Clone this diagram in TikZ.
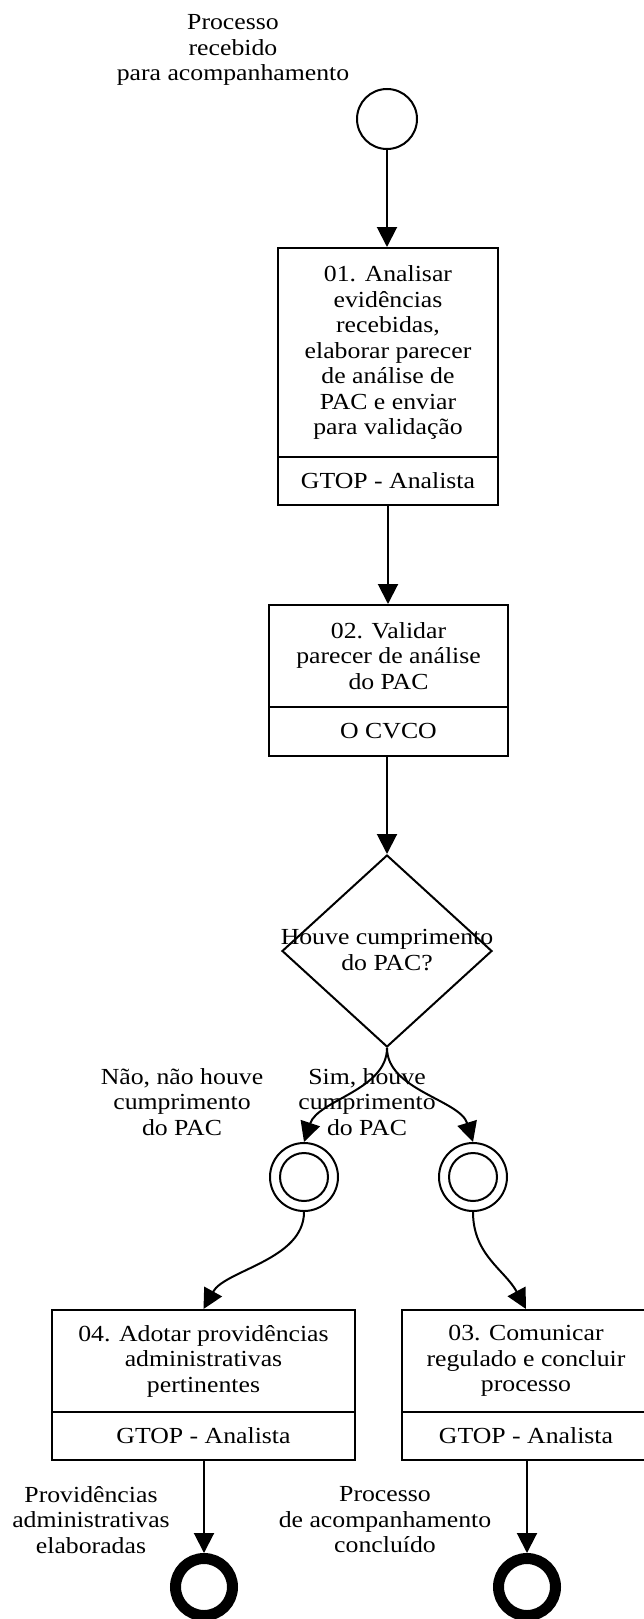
\documentclass[tikz,border=0pt]{standalone}
\usepackage{fontspec}
\setmainfont{Liberation Serif}[FakeStretch=1.12]
\usetikzlibrary{shapes.geometric,arrows.meta}
\tikzset{
  every node/.style={font=\fontsize{23}{25.5}\selectfont, align=center},
  lbl/.style={inner sep=0pt},
  task/.style={draw, line width=2pt, inner sep=0pt},
  evt/.style={circle, draw, line width=2pt, minimum size=60pt, inner sep=0pt},
  midevt/.style={circle, draw, line width=2pt, minimum size=68pt, inner sep=0pt},
  inevt/.style={circle, draw, line width=2pt, minimum size=48pt, inner sep=0pt},
  endevt/.style={circle, draw, line width=11pt, minimum size=57pt, inner sep=0pt},
  gate/.style={diamond, draw, line width=2pt, minimum width=210pt, minimum height=192pt, inner sep=0pt},
  flow/.style={line width=2pt, -{Triangle[length=20pt,width=20pt]}}
}
\begin{document}
\begin{tikzpicture}[x=1pt,y=-1pt]
\path[use as bounding box] (0,0) rectangle (644,1619);
\clip (0,0) rectangle (644,1619);
\node[lbl] (startlbl) at (233,50) {Processo\\recebido\\para acompanhamento};
\node[evt] (start) at (387,119) {};
\node[task, minimum width=220pt, minimum height=209pt] (t1) at (388,352.5) {01. Analisar\\evidências\\recebidas,\\elaborar parecer\\de análise de\\PAC e enviar\\para validação};
\node[task, minimum width=220pt, minimum height=48pt] (r1) at (388,481) {GTOP - Analista};
\node[task, minimum width=239pt, minimum height=102pt] (t2) at (388.5,656) {02. Validar\\parecer de análise\\do PAC};
\node[task, minimum width=239pt, minimum height=49pt] (r2) at (388.5,731.5) {O CVCO};
\node[gate] (dec) at (387,951) {};
\node[lbl] (dectxt) at (387,950) {Houve cumprimento\\do PAC?};
\node[lbl] (nolbl) at (182,1102) {Não, não houve\\cumprimento\\do PAC};
\node[lbl] (simlbl) at (367,1102) {Sim, houve\\cumprimento\\do PAC};
\node[midevt] (g1) at (304,1177) {};
\node[inevt] (g1in) at (304,1177) {};
\node[midevt] (g2) at (473,1177) {};
\node[inevt] (g2in) at (473,1177) {};
\node[task, minimum width=303pt, minimum height=102pt] (t4) at (203.5,1361) {04. Adotar providências\\administrativas\\pertinentes};
\node[task, minimum width=303pt, minimum height=48pt] (r4) at (203.5,1436) {GTOP - Analista};
\node[task, minimum width=248pt, minimum height=102pt] (t3) at (526,1361) {03. Comunicar\\regulado e concluir\\processo};
\node[task, minimum width=248pt, minimum height=48pt] (r3) at (526,1436) {GTOP - Analista};
\node[lbl] (e1lbl) at (91,1520) {Providências\\administrativas\\elaboradas};
\node[lbl] (e2lbl) at (385,1520) {Processo\\de acompanhamento\\concluído};
\node[endevt] (e1) at (204,1587) {};
\node[endevt] (e2) at (527,1587) {};
\draw[flow] (start) -- (start |- t1.north);
\draw[flow] (r1) -- (r1 |- t2.north);
\draw[flow] (r2.south -| dec.north) -- (dec.north);
\draw[flow] (dec.south) .. controls (387,1090) and (318,1100) .. (g1.north);
\draw[flow] (dec.south) .. controls (387,1090) and (460,1100) .. (g2.north);
\draw[flow] (g1.south) .. controls (304,1260) and (225,1270) .. (t4.north);
\draw[flow] (g2.south) .. controls (473,1255) and (505,1270) .. (t3.north);
\draw[flow] (r4.south -| e1.north) -- (e1.north);
\draw[flow] (r3.south -| e2.north) -- (e2.north);
\end{tikzpicture}
\end{document}
